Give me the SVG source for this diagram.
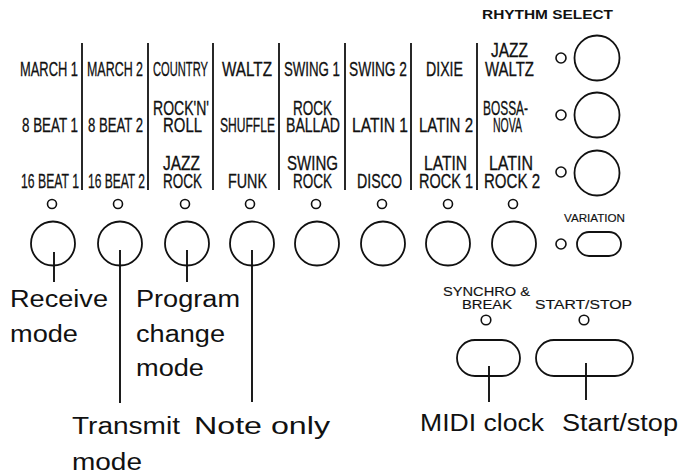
<svg xmlns="http://www.w3.org/2000/svg" width="681" height="474" viewBox="0 0 681 474">
<style>
  .bg{fill:#ffffff}
  .ring{fill:none;stroke:#111;stroke-width:1.8}
  .led{fill:none;stroke:#111;stroke-width:1.6}
  .div{stroke:#111;stroke-width:1.8}
  .lead{stroke:#111;stroke-width:1.9}
  .r{font-family:"Liberation Sans Narrow","Liberation Sans",Arial,sans-serif;font-size:19.5px;fill:#111;stroke:#111;stroke-width:0.3}
  .lab{font-family:"Liberation Sans",Arial,sans-serif;font-size:23px;fill:#111}
  .sm{font-family:"Liberation Sans",Arial,sans-serif;font-size:13px;fill:#111;stroke:#111;stroke-width:0.15}
  .hd{font-family:"Liberation Sans",Arial,sans-serif;font-size:12.5px;font-weight:bold;fill:#111}
</style>
<rect class="bg" x="0" y="0" width="681" height="474"/>

<text id="title" class="hd" x="482" y="19" textLength="131" lengthAdjust="spacingAndGlyphs">RHYTHM SELECT</text>

<g id="dividers">
  <line class="div" x1="82" y1="43" x2="82" y2="190"/>
  <line class="div" x1="148" y1="43" x2="148" y2="190"/>
  <line class="div" x1="213" y1="43" x2="213" y2="190"/>
  <line class="div" x1="279" y1="43" x2="279" y2="190"/>
  <line class="div" x1="345" y1="43" x2="345" y2="190"/>
  <line class="div" x1="411" y1="43" x2="411" y2="190"/>
  <line class="div" x1="477" y1="43" x2="477" y2="190"/>
</g>

<g id="rhythm-names">
  <text class="r" x="20" y="76" textLength="58" lengthAdjust="spacingAndGlyphs">MARCH 1</text>
  <text class="r" x="87" y="76" textLength="56" lengthAdjust="spacingAndGlyphs">MARCH 2</text>
  <text class="r" x="153" y="76" textLength="55" lengthAdjust="spacingAndGlyphs">COUNTRY</text>
  <text class="r" x="222" y="76" textLength="50" lengthAdjust="spacingAndGlyphs">WALTZ</text>
  <text class="r" x="284" y="76" textLength="56" lengthAdjust="spacingAndGlyphs">SWING 1</text>
  <text class="r" x="349" y="76" textLength="58" lengthAdjust="spacingAndGlyphs">SWING 2</text>
  <text class="r" x="426" y="76" textLength="37" lengthAdjust="spacingAndGlyphs">DIXIE</text>
  <text class="r" x="491" y="57" textLength="37" lengthAdjust="spacingAndGlyphs">JAZZ</text>
  <text class="r" x="485" y="76" textLength="49" lengthAdjust="spacingAndGlyphs">WALTZ</text>

  <text class="r" x="22" y="132" textLength="56" lengthAdjust="spacingAndGlyphs">8 BEAT 1</text>
  <text class="r" x="88" y="132" textLength="55" lengthAdjust="spacingAndGlyphs">8 BEAT 2</text>
  <text class="r" x="153" y="115" textLength="56" lengthAdjust="spacingAndGlyphs">ROCK'N'</text>
  <text class="r" x="163" y="132" textLength="39" lengthAdjust="spacingAndGlyphs">ROLL</text>
  <text class="r" x="220" y="132" textLength="55" lengthAdjust="spacingAndGlyphs">SHUFFLE</text>
  <text class="r" x="293" y="115" textLength="39" lengthAdjust="spacingAndGlyphs">ROCK</text>
  <text class="r" x="286" y="132" textLength="54" lengthAdjust="spacingAndGlyphs">BALLAD</text>
  <text class="r" x="352" y="132" textLength="56" lengthAdjust="spacingAndGlyphs">LATIN 1</text>
  <text class="r" x="419" y="132" textLength="54" lengthAdjust="spacingAndGlyphs">LATIN 2</text>
  <text class="r" x="483" y="115" textLength="45" lengthAdjust="spacingAndGlyphs">BOSSA-</text>
  <text class="r" x="493" y="132" textLength="29" lengthAdjust="spacingAndGlyphs">NOVA</text>

  <text class="r" x="21" y="188" textLength="58" lengthAdjust="spacingAndGlyphs">16 BEAT 1</text>
  <text class="r" x="88" y="188" textLength="57" lengthAdjust="spacingAndGlyphs">16 BEAT 2</text>
  <text class="r" x="163" y="170" textLength="37" lengthAdjust="spacingAndGlyphs">JAZZ</text>
  <text class="r" x="163" y="188" textLength="39" lengthAdjust="spacingAndGlyphs">ROCK</text>
  <text class="r" x="228" y="188" textLength="39" lengthAdjust="spacingAndGlyphs">FUNK</text>
  <text class="r" x="287" y="170" textLength="51" lengthAdjust="spacingAndGlyphs">SWING</text>
  <text class="r" x="293" y="188" textLength="39" lengthAdjust="spacingAndGlyphs">ROCK</text>
  <text class="r" x="357" y="188" textLength="45" lengthAdjust="spacingAndGlyphs">DISCO</text>
  <text class="r" x="424" y="170" textLength="43" lengthAdjust="spacingAndGlyphs">LATIN</text>
  <text class="r" x="419" y="188" textLength="54" lengthAdjust="spacingAndGlyphs">ROCK 1</text>
  <text class="r" x="489" y="170" textLength="44" lengthAdjust="spacingAndGlyphs">LATIN</text>
  <text class="r" x="484" y="188" textLength="56" lengthAdjust="spacingAndGlyphs">ROCK 2</text>
</g>

<g id="button-1"><circle class="led" cx="52" cy="204" r="4.5"/><circle class="ring" cx="53" cy="243.5" r="22"/></g>
<g id="button-2"><circle class="led" cx="118" cy="204" r="4.5"/><circle class="ring" cx="120" cy="243.5" r="22"/></g>
<g id="button-3"><circle class="led" cx="185" cy="204" r="4.5"/><circle class="ring" cx="187" cy="243.5" r="22"/></g>
<g id="button-4"><circle class="led" cx="250" cy="204" r="4.5"/><circle class="ring" cx="252" cy="243.5" r="22"/></g>
<g id="button-5"><circle class="led" cx="316" cy="204" r="4.5"/><circle class="ring" cx="317" cy="243.5" r="22"/></g>
<g id="button-6"><circle class="led" cx="382" cy="204" r="4.5"/><circle class="ring" cx="383" cy="243.5" r="22"/></g>
<g id="button-7"><circle class="led" cx="448" cy="204" r="4.5"/><circle class="ring" cx="448" cy="243.5" r="22"/></g>
<g id="button-8"><circle class="led" cx="513" cy="204" r="4.5"/><circle class="ring" cx="514" cy="243.5" r="22"/></g>

<g id="bank-1"><circle class="led" cx="561" cy="58" r="5"/><circle class="ring" cx="597" cy="58" r="22.5"/></g>
<g id="bank-2"><circle class="led" cx="561" cy="115" r="5"/><circle class="ring" cx="597" cy="115" r="22.5"/></g>
<g id="bank-3"><circle class="led" cx="561" cy="172" r="5"/><circle class="ring" cx="597" cy="173" r="22.5"/></g>

<g id="variation">
  <text class="sm" x="564" y="222" textLength="61" lengthAdjust="spacingAndGlyphs" style="font-size:11.5px">VARIATION</text>
  <circle class="led" cx="561" cy="244" r="5"/>
  <rect class="ring" x="577" y="232" width="44" height="24" rx="12" ry="12"/>
</g>

<g id="synchro-break">
  <text class="sm" x="443" y="296" textLength="87" lengthAdjust="spacingAndGlyphs">SYNCHRO &amp;</text>
  <text class="sm" x="462" y="309" textLength="50" lengthAdjust="spacingAndGlyphs">BREAK</text>
  <circle class="led" cx="486" cy="320" r="4.8"/>
  <rect class="ring" x="457" y="340" width="63" height="36" rx="18" ry="18"/>
</g>

<g id="start-stop">
  <text class="sm" x="535" y="309" textLength="97" lengthAdjust="spacingAndGlyphs">START/STOP</text>
  <circle class="led" cx="584" cy="320" r="4.8"/>
  <rect class="ring" x="536" y="340" width="97" height="36" rx="18" ry="18"/>
</g>

<g id="connectors">
  <line class="lead" x1="54" y1="252" x2="54" y2="282"/>
  <line class="lead" x1="120" y1="250" x2="120" y2="403"/>
  <line class="lead" x1="187" y1="250" x2="187" y2="282"/>
  <line class="lead" x1="252" y1="250" x2="252" y2="402"/>
  <line class="lead" x1="489" y1="366" x2="489" y2="402"/>
  <line class="lead" x1="586" y1="363" x2="586" y2="400"/>
</g>

<g id="labels">
  <text class="lab" x="10" y="307" textLength="98" lengthAdjust="spacingAndGlyphs">Receive</text>
  <text class="lab" x="10" y="342" textLength="68" lengthAdjust="spacingAndGlyphs">mode</text>
  <text class="lab" x="136" y="307" textLength="104" lengthAdjust="spacingAndGlyphs">Program</text>
  <text class="lab" x="136" y="342" textLength="89" lengthAdjust="spacingAndGlyphs">change</text>
  <text class="lab" x="136" y="376" textLength="68" lengthAdjust="spacingAndGlyphs">mode</text>
  <text class="lab" x="72" y="434" textLength="108" lengthAdjust="spacingAndGlyphs">Transmit</text>
  <text class="lab" x="72" y="470" textLength="70" lengthAdjust="spacingAndGlyphs">mode</text>
  <text class="lab" x="194" y="434" textLength="136" lengthAdjust="spacingAndGlyphs">Note only</text>
  <text class="lab" x="420" y="431" textLength="124" lengthAdjust="spacingAndGlyphs">MIDI clock</text>
  <text class="lab" x="562" y="431" textLength="116" lengthAdjust="spacingAndGlyphs">Start/stop</text>
</g>
</svg>
